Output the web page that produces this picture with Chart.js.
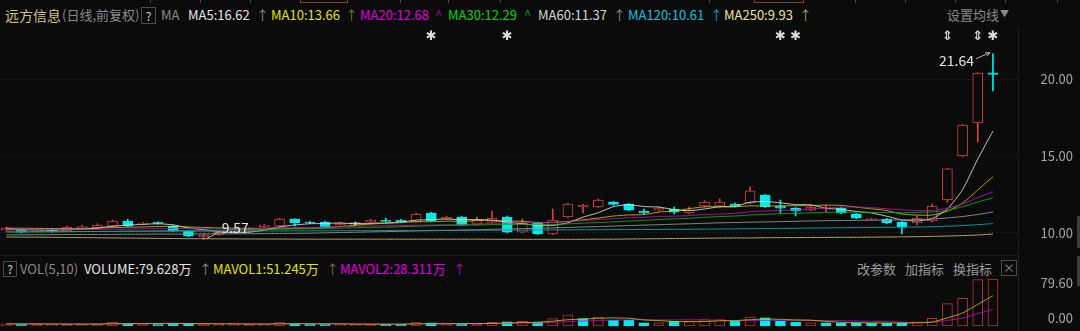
<!DOCTYPE html>
<html><head><meta charset="utf-8">
<script src="https://cdn.jsdelivr.net/npm/chart.js@4.4.0/dist/chart.umd.min.js"></script>
<style>
html,body{margin:0;padding:0;background:#0b0b0b;width:1080px;height:331px;overflow:hidden;font-family:"Noto Sans CJK SC","Noto Sans",sans-serif;}
#wrap{position:relative;width:1080px;height:331px;background:#0b0b0b;}
.t{position:absolute;white-space:nowrap;font-size:13px;line-height:16px;}
.box{position:absolute;border:1px solid #4a4a4a;box-sizing:border-box;color:#d0d0d0;font-size:12px;line-height:15px;text-align:center;}
canvas{position:absolute;left:0;}
.ln{position:absolute;}
</style></head>
<body><div id="wrap">
<!-- top tab strip remnants -->
<div class="ln" style="left:150px;top:0;width:1px;height:3px;background:#444"></div>
<div class="ln" style="left:200px;top:0;width:1px;height:3px;background:#444"></div>
<div class="ln" style="left:250px;top:0;width:1px;height:3px;background:#444"></div>
<div class="ln" style="left:300px;top:0;width:48px;height:3px;border:1px solid #7a4a2a;border-top:none;box-sizing:border-box"></div>
<div class="ln" style="left:400px;top:0;width:1px;height:3px;background:#444"></div>
<div class="ln" style="left:448px;top:0;width:1px;height:3px;background:#444"></div>
<div class="ln" style="left:500px;top:0;width:1px;height:3px;background:#444"></div>
<div class="ln" style="left:709px;top:0;width:1px;height:3px;background:#444"></div>
<div class="ln" style="left:754px;top:0;width:50px;height:3px;border:1px solid #7a4a2a;border-top:none;box-sizing:border-box"></div>
<div class="ln" style="left:855px;top:0;width:1px;height:3px;background:#444"></div>
<div class="ln" style="left:905px;top:0;width:1px;height:3px;background:#444"></div>
<div class="ln" style="left:955px;top:0;width:1px;height:3px;background:#444"></div>
<div class="ln" style="left:1005px;top:0;width:1px;height:3px;background:#444"></div>
<div class="ln" style="left:1057px;top:0;width:1px;height:3px;background:#444"></div>

<!-- price header -->
<div class="t" style="left:5px;top:7px;color:#d2c48c;font-size:14px">远方信息</div>
<div class="t" style="left:62px;top:7px;color:#8a8a8a">(日线,前复权)</div>
<div class="box" style="left:141px;top:7px;width:15px;height:17px">?</div>
<div class="t" style="left:161px;top:7px;color:#8a8a8a">MA</div>
<div class="t" style="left:188px;top:7px;color:#e6e6e6">MA5:16.62</div>
<div class="t" style="left:256px;top:7px;color:#8a8a8a">↑</div>
<div class="t" style="left:271px;top:7px;color:#e4e400">MA10:13.66</div>
<div class="t" style="left:345px;top:7px;color:#7a7a10">↑</div>
<div class="t" style="left:360px;top:7px;color:#e000e0">MA20:12.68</div>
<div class="t" style="left:435px;top:7px;color:#a000a0">^</div>
<div class="t" style="left:448px;top:7px;color:#00d800">MA30:12.29</div>
<div class="t" style="left:524px;top:7px;color:#00a000">^</div>
<div class="t" style="left:538px;top:7px;color:#d6d6d6">MA60:11.37</div>
<div class="t" style="left:613px;top:7px;color:#8a8a8a">↑</div>
<div class="t" style="left:628px;top:7px;color:#10c4e0">MA120:10.61</div>
<div class="t" style="left:710px;top:7px;color:#10a0b8">↑</div>
<div class="t" style="left:724px;top:7px;color:#ece4a4">MA250:9.93</div>
<div class="t" style="left:799px;top:7px;color:#a09c70">↑</div>
<div class="t" style="left:947px;top:7px;color:#8a8a8a">设置均线</div>
<div class="t" style="left:1000px;top:6px;color:#8a8a8a;font-size:9px">▼</div>

<!-- volume header -->
<div class="box" style="left:3px;top:261px;width:14px;height:16px;line-height:14px">?</div>
<div class="t" style="left:20px;top:261px;color:#8a8a8a">VOL(5,10)</div>
<div class="t" style="left:84px;top:261px;color:#e6e6e6">VOLUME:79.628万</div>
<div class="t" style="left:199px;top:261px;color:#8a8a8a">↑</div>
<div class="t" style="left:213px;top:261px;color:#e4e400">MAVOL1:51.245万</div>
<div class="t" style="left:326px;top:261px;color:#7a7a10">↑</div>
<div class="t" style="left:340px;top:261px;color:#e000e0">MAVOL2:28.311万</div>
<div class="t" style="left:453px;top:261px;color:#c000c0">↑</div>
<div class="t" style="left:857px;top:261px;color:#9a9a9a">改参数</div>
<div class="t" style="left:905px;top:261px;color:#9a9a9a">加指标</div>
<div class="t" style="left:953px;top:261px;color:#9a9a9a">换指标</div>
<div class="box" style="left:1001px;top:260px;width:16px;height:16px;line-height:14px;color:#8a8a8a">×</div>

<!-- separators -->
<div class="ln" style="left:0;top:255px;width:1018px;height:1px;background:#1c1c1c"></div>
<div class="ln" style="left:1018px;top:28px;width:1px;height:303px;background:#1e1e1e"></div>
<div class="ln" style="left:1077px;top:216px;width:3px;height:32px;background:#3c3c3c"></div>
<div class="ln" style="left:1077px;top:256px;width:3px;height:30px;background:#3c3c3c"></div>

<canvas id="pc" width="1080" height="225" style="top:30px"></canvas>
<canvas id="vc" width="1080" height="56" style="top:275px"></canvas>
</div>
<script>
// ---- data ----
const days = [0,1,2,3,4,5,6,7,8,9,10,11,12,13,14,15,16,17,18,19,20,21,22,23,24,25,26,27,28,29,30,31,32,33,34,35,36,37,38,39,40,41,42,43,44,45,46,47,48,49,50,51,52,53,54,55,56,57,58,59,60,61,62,63,64,65];
const open  = [10.19,10.19,10.10,10.17,10.13,10.35,10.32,10.45,10.78,10.58,10.66,10.45,10.13,9.74,9.90,10.05,10.10,10.40,10.45,10.90,10.71,10.71,10.52,10.60,10.71,10.80,10.84,10.71,11.30,10.91,11.04,10.58,10.71,11.04,10.06,10.65,9.94,11.04,11.69,11.69,12.00,11.88,11.43,11.49,11.56,11.30,11.75,11.75,11.88,11.95,12.47,11.75,11.62,11.49,11.56,11.62,11.23,10.88,10.91,10.71,10.65,10.78,12.14,15.00,17.14,20.40];
const high  = [10.39,10.25,10.25,10.25,10.45,10.50,10.60,10.85,10.90,10.70,10.72,10.50,10.15,9.95,10.10,10.30,10.35,10.58,10.95,10.93,10.75,10.78,10.70,10.71,10.88,10.97,10.88,11.30,11.35,11.10,11.08,11.04,11.43,11.10,10.91,10.70,11.56,11.92,11.86,12.20,12.05,11.92,11.56,11.68,11.69,11.69,12.10,12.21,11.95,12.99,12.50,12.14,11.65,11.75,11.82,11.65,11.28,10.97,10.95,10.75,11.10,11.88,14.20,17.05,20.42,21.64];
const low   = [10.13,10.00,10.05,10.05,10.10,10.30,10.28,10.40,10.42,10.55,10.58,10.10,9.75,9.57,9.85,10.00,10.05,10.35,10.40,10.45,10.60,10.35,10.50,10.52,10.68,10.72,10.70,10.68,10.75,10.88,10.48,10.52,10.68,10.00,10.00,9.90,9.90,11.00,11.30,11.65,11.80,11.45,11.23,11.45,11.23,11.27,11.70,11.70,11.70,11.90,11.65,11.30,11.10,11.45,11.36,11.25,10.93,10.84,10.60,9.94,10.52,10.71,12.00,14.95,15.91,19.22];
const close = [10.32,10.06,10.20,10.12,10.39,10.40,10.52,10.78,10.45,10.65,10.62,10.13,9.80,9.87,10.05,10.25,10.26,10.52,10.90,10.65,10.65,10.39,10.65,10.60,10.84,10.75,10.73,11.23,10.78,11.04,10.52,10.84,10.97,10.06,10.65,9.94,10.84,11.88,11.82,12.14,11.85,11.49,11.30,11.62,11.36,11.49,12.01,12.01,11.75,12.73,11.69,11.62,11.43,11.69,11.62,11.30,10.97,10.93,10.65,10.39,10.97,11.75,14.16,17.01,20.39,20.30];

const ma5   = [10.25,10.22,10.20,10.18,10.22,10.23,10.33,10.44,10.51,10.56,10.60,10.53,10.33,10.21,10.09,10.02,10.05,10.19,10.40,10.52,10.60,10.62,10.65,10.59,10.63,10.65,10.71,10.83,10.87,10.91,10.86,10.88,10.83,10.69,10.61,10.49,10.49,10.67,11.03,11.32,11.71,11.84,11.72,11.68,11.52,11.45,11.56,11.70,11.72,12.00,12.04,11.96,11.84,11.83,11.61,11.53,11.40,11.30,11.09,10.85,10.78,10.94,11.56,12.82,14.80,16.62];
const ma10  = [10.32,10.31,10.30,10.29,10.29,10.30,10.32,10.35,10.37,10.39,10.42,10.43,10.39,10.36,10.33,10.31,10.29,10.26,10.31,10.31,10.31,10.34,10.42,10.50,10.58,10.63,10.67,10.74,10.73,10.77,10.76,10.80,10.83,10.78,10.76,10.68,10.69,10.75,10.86,10.97,11.10,11.17,11.20,11.36,11.42,11.58,11.70,11.71,11.70,11.76,11.75,11.76,11.77,11.78,11.81,11.79,11.68,11.57,11.46,11.23,11.16,11.17,11.42,11.94,12.80,13.66];
const ma20  = [10.20,10.20,10.21,10.21,10.22,10.22,10.23,10.24,10.25,10.27,10.28,10.29,10.29,10.29,10.30,10.31,10.32,10.33,10.34,10.35,10.37,10.39,10.41,10.43,10.46,10.47,10.48,10.50,10.52,10.54,10.54,10.57,10.63,10.64,10.67,10.66,10.68,10.75,10.80,10.87,10.93,10.99,11.02,11.07,11.09,11.13,11.20,11.23,11.28,11.37,11.43,11.47,11.49,11.57,11.62,11.69,11.69,11.64,11.58,11.50,11.46,11.47,11.61,11.88,12.30,12.68];
const ma30  = [10.05,10.06,10.06,10.07,10.08,10.09,10.10,10.11,10.12,10.13,10.14,10.16,10.17,10.18,10.19,10.20,10.21,10.22,10.24,10.26,10.28,10.30,10.32,10.34,10.36,10.38,10.41,10.44,10.47,10.49,10.50,10.52,10.55,10.55,10.56,10.54,10.55,10.59,10.64,10.68,10.72,10.77,10.82,10.88,10.92,10.96,11.02,11.07,11.10,11.17,11.21,11.25,11.27,11.31,11.33,11.35,11.36,11.34,11.34,11.32,11.34,11.37,11.47,11.71,12.01,12.29];
const ma60  = [9.88,9.88,9.89,9.89,9.90,9.90,9.91,9.91,9.92,9.92,9.93,9.93,9.93,9.94,9.94,9.95,9.95,9.96,9.97,9.98,9.99,10.01,10.03,10.05,10.07,10.09,10.11,10.13,10.15,10.17,10.19,10.21,10.24,10.26,10.28,10.30,10.33,10.36,10.39,10.42,10.45,10.48,10.51,10.54,10.57,10.60,10.63,10.66,10.68,10.70,10.72,10.74,10.76,10.78,10.80,10.81,10.82,10.83,10.84,10.85,10.87,10.91,10.98,11.07,11.20,11.37];
const ma120 = [10.08,10.08,10.09,10.09,10.09,10.10,10.10,10.10,10.11,10.11,10.11,10.11,10.12,10.12,10.12,10.12,10.13,10.13,10.13,10.14,10.14,10.14,10.15,10.15,10.15,10.16,10.16,10.16,10.17,10.17,10.17,10.18,10.18,10.18,10.19,10.19,10.20,10.20,10.21,10.21,10.22,10.22,10.23,10.23,10.24,10.24,10.25,10.26,10.27,10.28,10.29,10.30,10.31,10.32,10.33,10.34,10.35,10.36,10.37,10.38,10.39,10.41,10.44,10.48,10.54,10.61];
const ma250 = [9.74,9.73,9.73,9.72,9.71,9.70,9.69,9.68,9.67,9.66,9.65,9.64,9.63,9.63,9.62,9.62,9.61,9.61,9.61,9.60,9.60,9.60,9.60,9.60,9.60,9.60,9.60,9.60,9.60,9.60,9.60,9.60,9.59,9.59,9.59,9.59,9.59,9.59,9.59,9.60,9.60,9.61,9.62,9.63,9.64,9.65,9.66,9.67,9.68,9.68,9.69,9.70,9.70,9.71,9.71,9.72,9.72,9.73,9.74,9.75,9.76,9.78,9.80,9.83,9.87,9.93];

const volume = [3.5,3.2,3.4,3.0,3.3,3.1,3.4,6.5,4.2,3.4,3.2,4.8,4.4,3.3,3.1,3.2,3.3,3.2,5.6,4.0,2.8,2.8,3.2,3.2,3.3,2.8,2.8,5.6,5.2,3.2,3.6,3.3,6.4,7.2,8.0,6.5,12.5,19.0,12.5,15.0,9.5,9.5,5.5,5.5,8.0,8.0,11.0,11.0,8.0,15.0,14.0,8.0,6.5,5.5,5.5,5.5,5.5,4.5,4.5,5.5,7.0,13.0,38.0,47.0,78.5,79.628];
const volUp  = [1,0,1,1,1,1,1,1,0,1,0,0,0,1,1,1,1,1,1,0,0,0,1,1,1,0,0,1,0,1,0,1,1,0,1,0,1,1,0,1,0,0,0,1,0,1,1,1,0,1,0,0,0,1,0,0,0,0,0,0,1,1,1,1,1,1];
const mavol1 = [3.6,3.5,3.5,3.4,3.28,3.2,3.26,3.86,4.08,4.14,4.3,4.4,4.0,3.82,3.74,3.6,3.26,3.22,3.68,3.86,3.78,3.76,3.68,3.2,3.06,3.06,3.06,3.58,3.94,3.92,4.08,4.18,4.34,5.14,5.74,6.28,8.12,10.64,11.7,13.1,13.7,13.1,10.4,9.0,7.6,7.3,7.6,8.7,9.2,10.6,11.8,11.2,10.3,9.8,7.9,6.2,5.7,5.3,5.1,5.1,5.4,6.9,13.6,22.1,36.7,51.245];
const mavol2 = [3.5,3.5,3.5,3.5,3.5,3.5,3.5,3.52,3.6,3.71,3.75,3.83,3.93,3.95,3.94,3.95,3.83,3.61,3.75,3.8,3.69,3.51,3.45,3.44,3.46,3.42,3.41,3.63,3.57,3.49,3.57,3.62,3.96,4.54,4.83,5.18,6.15,7.49,8.42,9.42,9.99,10.61,10.52,10.35,10.35,10.5,10.35,9.55,9.1,9.1,9.55,9.4,9.5,9.5,9.25,9.0,8.45,7.8,7.45,6.5,5.8,6.3,9.45,13.65,20.9,28.311];

const priceTicks = [10, 15, 20];
const volTicks = [0, 79.6];
const markerIdx = [28, 33, 51, 52, 62, 64, 65];
const markerGlyph = ['✱','✱','✱','✱','⇕','⇕','✱'];
const hiIdx = 65, loIdx = 13;

// ---- styling ----
const BG = '#0b0b0b', UP = '#d84040', DN = '#00ecec', FLAT = '#e0e0e0';
const candleCol = days.map(i => close[i] > open[i] ? UP : (close[i] < open[i] ? DN : FLAT));
const FONT = '"Noto Sans CJK SC","Noto Sans",sans-serif';

function fixWidth(s){ s.width = 55; s.paddingTop = 0; s.paddingBottom = 0; }
const xScale = {type:'linear', min:-0.415, max:66.65, offset:false, display:false};

const maDefs = [
  [ma250,'rgba(200,192,120,0.85)'],
  [ma120,'rgba(0,170,190,0.9)'],
  [ma60,'rgba(150,150,150,0.9)'],
  [ma30,'rgba(0,190,0,0.85)'],
  [ma20,'rgba(210,0,210,0.85)'],
  [ma10,'rgba(210,210,0,0.8)'],
  [ma5,'rgba(215,215,215,0.9)']
];

const annot = {
  id:'annot',
  afterDatasetsDraw(chart){
    const {ctx, scales:{x, y}} = chart;
    ctx.save();
    ctx.fillStyle = '#dcdcdc';
    ctx.textAlign = 'center'; ctx.textBaseline = 'middle';
    ctx.font = 'bold 13px "DejaVu Sans"';
    markerIdx.forEach((idx, k) => ctx.fillText(markerGlyph[k], x.getPixelForValue(idx), 7));
    // max label
    const hx = x.getPixelForValue(hiIdx), hy = y.getPixelForValue(high[hiIdx]);
    ctx.strokeStyle = '#b0b0b0'; ctx.lineWidth = 1;
    ctx.beginPath(); ctx.moveTo(hx-17, hy+5); ctx.lineTo(hx-3, hy-1); ctx.stroke();
    ctx.beginPath(); ctx.moveTo(hx-3, hy-1); ctx.lineTo(hx-8, hy-1); ctx.moveTo(hx-3, hy-1); ctx.lineTo(hx-6, hy+2.5); ctx.stroke();
    ctx.font = '14px ' + FONT; ctx.fillStyle = '#e6e6e6'; ctx.textAlign = 'right';
    ctx.fillText(high[hiIdx].toFixed(2), hx-19, hy+7);
    // min label
    const lx = x.getPixelForValue(loIdx), ly = y.getPixelForValue(low[loIdx]);
    ctx.beginPath(); ctx.moveTo(lx+3, ly-1); ctx.lineTo(lx+16, ly-8); ctx.stroke();
    ctx.textAlign = 'left';
    ctx.fillText(low[loIdx].toFixed(2), lx+18, ly-12);
    ctx.restore();
  }
};

new Chart(document.getElementById('pc'), {
  data: {
    datasets: [
      ...maDefs.map(([arr, c]) => ({type:'line', data: days.map(i => ({x:i, y:arr[i]})), borderColor:c, borderWidth:1, pointRadius:0, tension:0.2, order:0})),
      {type:'bar', data: days.map(i => ({x:i, y:[open[i], close[i]]})), barThickness:10, grouped:false, minBarLength:1,
        backgroundColor: days.map(i => candleCol[i] === UP ? BG : candleCol[i]),
        borderColor: candleCol, borderWidth:1, borderSkipped:false, order:1},
      {type:'bar', data: days.map(i => ({x:i, y:[low[i], high[i]]})), barThickness:1, grouped:false,
        backgroundColor: candleCol, borderWidth:0, order:2}
    ]
  },
  options: {
    responsive:false, animation:false, devicePixelRatio:1, events:[],
    layout:{padding:{left:0, right:7, top:0, bottom:0}},
    plugins:{legend:{display:false}, tooltip:{enabled:false}},
    scales:{
      x: xScale,
      y: {position:'right', min:8.571, max:23.182,
        afterBuildTicks: s => { s.ticks = priceTicks.map(v => ({value:v})); },
        afterFit: fixWidth,
        ticks:{color:'#a6a6a6', font:{size:13, family:FONT}, padding:0, crossAlign:'far', autoSkip:false, callback: v => Number(v).toFixed(2)},
        grid:{color:'rgba(110,110,110,0.35)', drawTicks:false, lineWidth:1},
        border:{display:false, dash:[1,3]}}
    }
  },
  plugins:[annot]
});

// volume axis: bottom label sits just above the zero line, top label just below the top tick
new Chart(document.getElementById('vc'), {
  data: {
    datasets: [
      {type:'line', data: days.map(i => ({x:i, y:mavol1[i]})), borderColor:'rgba(200,200,0,0.85)', borderWidth:1, pointRadius:0, tension:0.2, order:0},
      {type:'line', data: days.map(i => ({x:i, y:mavol2[i]})), borderColor:'rgba(200,0,200,0.85)', borderWidth:1, pointRadius:0, tension:0.2, order:0},
      {type:'bar', data: days.map(i => ({x:i, y:volume[i]})), barThickness:10, grouped:false, minBarLength:1,
        backgroundColor: days.map(i => volUp[i] ? BG : DN),
        borderColor: days.map(i => volUp[i] ? 'rgba(200,60,60,0.9)' : DN), borderWidth:1, borderSkipped:false, order:1}
    ]
  },
  options: {
    responsive:false, animation:false, devicePixelRatio:1, events:[],
    layout:{padding:{left:0, right:7, top:0, bottom:5}},
    plugins:{legend:{display:false}, tooltip:{enabled:false}},
    scales:{
      x: xScale,
      y: {position:'right', min:0, max:86.37,
        afterBuildTicks: s => { s.ticks = volTicks.map(v => ({value:v})); },
        afterFit: fixWidth,
        ticks:{color:'#a6a6a6', padding:0, crossAlign:'far', autoSkip:false,
          font: ctx => ({size:13, family:FONT, lineHeight: ctx.index === 0 ? '16px' : '8px'}),
          callback: (v, i) => i === 0 ? [Number(v).toFixed(2), ''] : ['', Number(v).toFixed(2)]},
        grid:{display:false}, border:{display:false}}
    }
  }
});
</script>
</body></html>
